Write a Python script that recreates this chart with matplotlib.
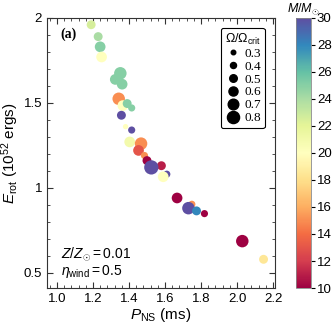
import matplotlib
matplotlib.use("Agg")
import matplotlib.pyplot as plt
import numpy as np
from matplotlib.ticker import MultipleLocator, FormatStrFormatter, FuncFormatter
from matplotlib.lines import Line2D

plt.rcParams['font.family'] = ['Liberation Sans', 'DejaVu Sans']
plt.rcParams['mathtext.fontset'] = 'custom'
plt.rcParams['mathtext.rm'] = 'Liberation Sans'
plt.rcParams['mathtext.it'] = 'Liberation Sans:italic'
plt.rcParams['mathtext.bf'] = 'Liberation Sans:bold'

# data
p_ns = [1.19, 1.229, 1.24, 1.248, 1.352, 1.324, 1.362, 1.343, 1.366, 1.39, 1.415,
        1.358, 1.381, 1.415, 1.404, 1.467, 1.453, 1.486, 1.50, 1.58, 1.524, 1.61,
        1.59, 1.667, 1.749, 1.73, 1.775, 1.819, 2.029, 2.147]
e_rot = [1.96, 1.89, 1.83, 1.77, 1.674, 1.638, 1.61, 1.524, 1.484, 1.496, 1.47,
         1.427, 1.36, 1.34, 1.27, 1.26, 1.22, 1.19, 1.16, 1.13, 1.12, 1.08,
         1.065, 0.94, 0.903, 0.88, 0.864, 0.848, 0.686, 0.579]
omega = [0.5, 0.5, 0.6, 0.6, 0.7, 0.6, 0.6, 0.7, 0.6, 0.5, 0.4,
         0.5, 0.3, 0.4, 0.6, 0.7, 0.6, 0.4, 0.5, 0.5, 0.8, 0.4,
         0.6, 0.6, 0.4, 0.7, 0.5, 0.4, 0.7, 0.5]
mass = [22.5, 24, 25, 20, 25, 25, 25, 15, 20, 25, 25,
        30, 20, 30, 21, 15, 13, 15, 10, 11, 30, 30,
        20, 10, 15, 30, 28, 10, 10, 18.5]
legend_omegas = [0.3, 0.4, 0.5, 0.6, 0.7, 0.8]
x_ticks = [1.0, 1.2, 1.4, 1.6, 1.8, 2.0, 2.2]
y_ticks = [0.5, 1.0, 1.5, 2.0]
cbar_ticks = list(range(10, 31, 2))

def size_of(o):
    return 165 * np.asarray(o) ** 2

fig = plt.figure(figsize=(3.32, 3.32), dpi=100)
ax = fig.add_axes([0.1416, 0.1325, 0.6864, 0.8135])
cax = fig.add_axes([0.8916, 0.1325, 0.044, 0.8135])

sc = ax.scatter(p_ns, e_rot, s=size_of(omega), c=mass, cmap='Spectral',
                vmin=10, vmax=30, edgecolors='none', zorder=3)

ax.set_xlim(0.945, 2.21)
ax.set_ylim(0.41, 2.0)
ax.set_xticks(x_ticks)
ax.set_yticks(y_ticks)
ax.xaxis.set_major_formatter(FormatStrFormatter('%.1f'))
ax.yaxis.set_major_formatter(FuncFormatter(lambda v, p: '%g' % v))
ax.xaxis.set_minor_locator(MultipleLocator(0.04))
ax.yaxis.set_minor_locator(MultipleLocator(0.1))
ax.tick_params(which='both', direction='in', top=True, right=True, labelsize=9.5,
               color='#333333')
ax.tick_params(which='major', length=4)
ax.tick_params(which='minor', length=2)
for s in ax.spines.values():
    s.set_color('#333333')

ax.set_xlabel(r'$P_{\rm NS}$ (ms)', fontsize=11, labelpad=1)
ax.set_ylabel(r'$E_{\rm rot}$ ($10^{52}$ ergs)', fontsize=11, labelpad=2)

ax.text(0.06, 0.94, '(a)', transform=ax.transAxes, fontsize=10, fontweight='bold',
        family='Liberation Serif', va='center', ha='left')
ax.text(0.06, 0.125, r'$Z/Z_{\odot} = 0.01$', transform=ax.transAxes, fontsize=10,
        va='center', ha='left')
ax.text(0.06, 0.06, r'$\eta_{\rm wind} = 0.5$', transform=ax.transAxes, fontsize=10,
        va='center', ha='left')

handles = [Line2D([], [], ls='none', marker='o', color='black',
                  markersize=np.sqrt(size_of(o)) * 0.85) for o in legend_omegas]
leg = ax.legend(handles, ['%.1f' % o for o in legend_omegas],
                title=r'$\Omega/\Omega_{\rm crit}$', loc='upper right',
                frameon=True, fancybox=True, edgecolor='black', framealpha=1,
                prop={'family': 'Liberation Serif', 'size': 9.5},
                title_fontsize=9, handletextpad=0.3, labelspacing=0.05,
                borderpad=0.3, borderaxespad=0.75, handlelength=1.2)
leg.get_frame().set_linewidth(0.8)

cb = fig.colorbar(sc, cax=cax, ticks=cbar_ticks)
cb.ax.tick_params(labelsize=9.5, length=3, pad=1.5)
cb.outline.set_linewidth(0.6)
cb.outline.set_edgecolor('#888888')
cb.ax.set_title(r'$M/M_{\odot}$', fontsize=9, pad=4)

fig.savefig('out.png', dpi=100)
